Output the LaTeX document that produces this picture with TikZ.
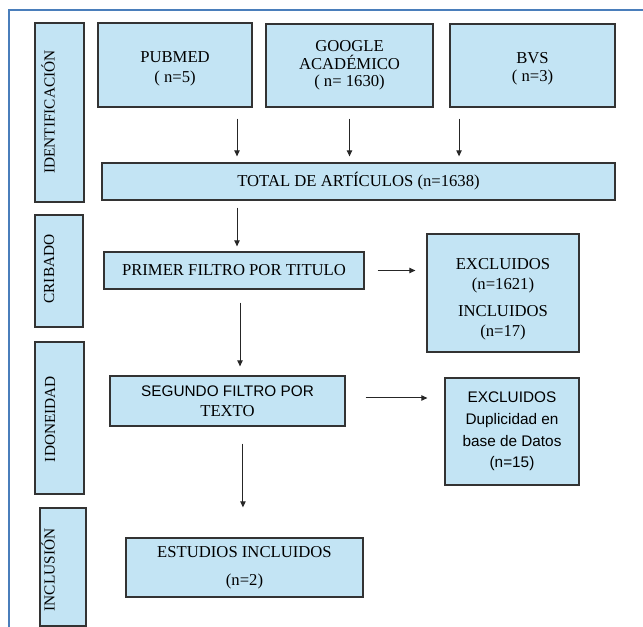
\documentclass[tikz,border=0pt]{standalone}
\usepackage{fontspec}
\setmainfont{Liberation Serif}
\newfontfamily\sansfnt{Liberation Sans}
\usetikzlibrary{positioning,arrows.meta}

\definecolor{cajafondo}{HTML}{C3E4F4}
\definecolor{borde}{HTML}{333333}
\definecolor{marco}{HTML}{4A7EBB}

\begin{document}
\begin{tikzpicture}[x=.75pt, y=-.75pt,
  caja/.style={draw=borde, fill=cajafondo, line width=.9pt, inner sep=0pt, align=center, font=\fontsize{12.5}{15}\selectfont},
  etapa/.style={rotate=90, inner sep=0pt, font=\fontsize{11.5}{13}\selectfont},
  flecha/.style={draw=black!85, line width=.75pt, -{Triangle[length=4.5pt,width=4pt]}}]

\useasboundingbox (0,0) rectangle (643,627);

\draw[marco, line width=1.5pt] (643,10) -- (9,10) -- (9,627);

% etapas
\node[caja, minimum width=36.75pt, minimum height=134.25pt] (ident) at (59.5,112.5) {};
\node[etapa] (identlbl) at (48,112) {IDENTIFICACIÓN};
\node[caja, minimum width=36pt, minimum height=84pt] (cribado) at (59,271) {};
\node[etapa] (cribadolbl) at (49,269) {CRIBADO};
\node[caja, minimum width=36.75pt, minimum height=114pt] (idoneidad) at (59.5,418) {};
\node[etapa] (idoneidadlbl) at (50,419) {IDONEIDAD};
\node[caja, minimum width=34.5pt, minimum height=88.5pt] (inclusion) at (63,567) {};
\node[etapa] (inclusionlbl) at (48,570) {INCLUSIÓN};

% fuentes
\node[caja, minimum width=115.5pt, minimum height=63pt] (pubmed) at (175,65) {\rule{0pt}{14pt}PUBMED\\( n=5)};
\node[caja, minimum width=125.25pt, minimum height=62.25pt, font=\fontsize{12.5}{13}\selectfont] (google) at (349.5,65.5) {GOOGLE\\ACADÉMICO\\( n= 1630)};
\node[caja, minimum width=123.75pt, minimum height=62.25pt, font=\fontsize{12.5}{13.5}\selectfont] (bvs) at (532.5,65.5) {\rule{0pt}{13pt}BVS\\( n=3)};
\node[caja, minimum width=384.75pt, minimum height=27.75pt] (total) at (358.5,181.5) {TOTAL DE ARTÍCULOS (n=1638)};

% filtros
\node[caja, minimum width=195pt, minimum height=27.75pt] (filtro1) at (234,270.5) {PRIMER FILTRO POR TITULO};
\node[caja, minimum width=114pt, minimum height=88.5pt] (excl1) at (503,293) {\rule{0pt}{17pt}EXCLUIDOS\\(n=1621)\\[5.25pt]INCLUIDOS\\(n=17)};
\node[caja, minimum width=176.25pt, minimum height=37.5pt] (filtro2) at (227.5,401) {{\sansfnt\fontsize{11.5}{15}\selectfont SEGUNDO FILTRO POR}\\TEXTO};
\node[caja, minimum width=100.5pt, minimum height=80.25pt, font=\sansfnt\fontsize{11.5}{16.3}\selectfont] (excl2) at (512,431.5) {EXCLUIDOS\\Duplicidad en\\base de Datos\\(n=15)};
\node[caja, minimum width=177.75pt, minimum height=44.25pt] (estudios) at (244.5,567.5) {ESTUDIOS INCLUIDOS\\[6pt](n=2)};

\draw[flecha, shorten <=8.25pt, shorten >=4.5pt] ([xshift=46.5pt]pubmed.south) -- ([xshift=46.5pt]pubmed.south |- total.north);
\draw[flecha, shorten <=8.25pt, shorten >=4.5pt] (google.south) -- (google.south |- total.north);
\draw[flecha, shorten <=8.25pt, shorten >=4.5pt] ([xshift=-55.1pt]bvs.south) -- ([xshift=-55.1pt]bvs.south |- total.north);
\draw[flecha, shorten <=5.25pt, shorten >=3.75pt] ([xshift=2.25pt]filtro1.north |- total.south) -- ([xshift=2.25pt]filtro1.north);
\draw[flecha, shorten <=9.75pt, shorten >=8.25pt] (filtro1.east) -- (filtro1.east -| excl1.west);
\draw[flecha, shorten <=9.75pt, shorten >=6.75pt] ([xshift=4.5pt]filtro1.south) -- ([xshift=4.5pt]filtro1.south |- filtro2.north);
\draw[flecha, shorten <=15pt, shorten >=12.75pt] ([yshift=2.25pt]filtro2.east) -- ([yshift=2.25pt]filtro2.east -| excl2.west);
\draw[flecha, shorten <=12.75pt, shorten >=22.5pt] ([xshift=11.6pt]filtro2.south) -- ([xshift=11.6pt]filtro2.south |- estudios.north);

\end{tikzpicture}
\end{document}
